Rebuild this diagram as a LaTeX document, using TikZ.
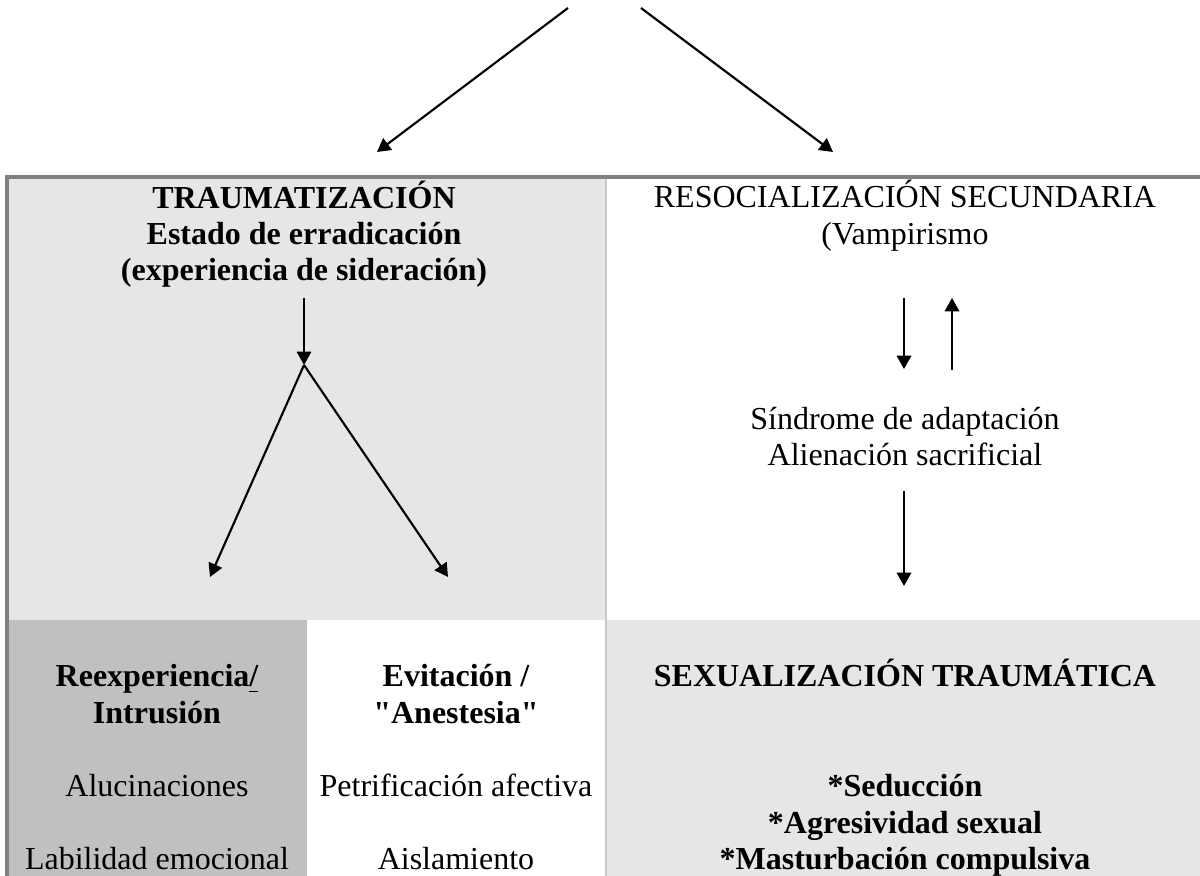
\documentclass[tikz,border=0pt]{standalone}
\usepackage{fontspec}
\setmainfont{Liberation Serif}[Ligatures=TeXOff]
\usetikzlibrary{arrows.meta}
\definecolor{cellgray}{HTML}{E6E6E6}
\definecolor{darkcell}{HTML}{C0C0C0}
\definecolor{rulegray}{HTML}{808080}
\definecolor{divgray}{HTML}{C8C8C8}
\tikzset{
  arr/.style={-{Triangle[length=5pt,width=5.4pt]}, line width=0.8pt},
  txt/.style={anchor=base, inner sep=0pt, font=\fontsize{12}{13.7}\selectfont},
  boldtxt/.style={txt, font=\fontsize{12}{13.7}\selectfont\bfseries},
}
\begin{document}
\begin{tikzpicture}[x=0.375pt, y=-0.375pt]
\useasboundingbox (0,0) rectangle (1200,876);
% cells
\fill[cellgray] (9,179) rectangle (606,620);
\fill[darkcell] (9,620) rectangle (307,876);
\fill[cellgray] (606,620) rectangle (1200,876);
\draw[divgray, line width=0.6pt] (606,179) -- (606,876);
\fill[rulegray] (5,175.5) rectangle (1200,179);
\fill[rulegray] (5,175.5) rectangle (9,876);

% top row
\node[boldtxt] (trauma) at (304,209) {TRAUMATIZACIÓN};
\node[boldtxt] (estado) at (304,245) {Estado de erradicación};
\node[boldtxt] (exper) at (304,281) {(experiencia de sideración)};
\node[txt] (resoc) at (905,208) {RESOCIALIZACIÓN SECUNDARIA};
\node[txt] (vamp) at (905,245) {(Vampirismo};
\node[txt] (sindrome) at (905,430) {Síndrome de adaptación};
\node[txt] (alien) at (905,466) {Alienación sacrificial};

% bottom row
\node[boldtxt] (reexp) at (157,687) {Reexperiencia\underline{/}};
\node[boldtxt] (intrus) at (157,723) {Intrusión};
\node[txt] (aluc) at (157,796) {Alucinaciones};
\node[txt] (labil) at (157,869) {Labilidad emocional};
\node[boldtxt] (evit) at (456,687) {Evitación /};
\node[boldtxt] (anest) at (456,723) {"Anestesia"};
\node[txt] (petrif) at (456,796) {Petrificación afectiva};
\node[txt] (aisl) at (456,869) {Aislamiento};
\node[boldtxt] (sexual) at (905,687) {SEXUALIZACIÓN TRAUMÁTICA};
\node[boldtxt] (seduc) at (905,797) {*Seducción};
\node[boldtxt] (agres) at (905,833) {*Agresividad sexual};
\node[boldtxt] (mastur) at (905,869) {*Masturbación compulsiva};

% arrows
\coordinate (topL) at (568,8);
\coordinate (topR) at (641,8);
\coordinate (tipL) at (377,152);
\coordinate (tipR) at (833,152);
\draw[arr] (topL) -- (tipL);
\draw[arr] (topR) -- (tipR);

\coordinate (stem) at (304,298);
\coordinate (split) at (304,365);
\coordinate (tipA) at (210,577);
\coordinate (tipB) at (448,577);
\draw[arr] (stem) -- (split);
\draw[arr] (split) -- (tipA);
\draw[arr] (split) -- (tipB);

\coordinate (dnTop) at (904,298);
\coordinate (dnBot) at (904,369);
\coordinate (upBot) at (952,370);
\coordinate (upTop) at (952,298);
\draw[arr] (dnTop) -- (dnBot);
\draw[arr] (upBot) -- (upTop);
\coordinate (lowTop) at (904,491);
\coordinate (lowBot) at (904,586);
\draw[arr] (lowTop) -- (lowBot);
\end{tikzpicture}
\end{document}
